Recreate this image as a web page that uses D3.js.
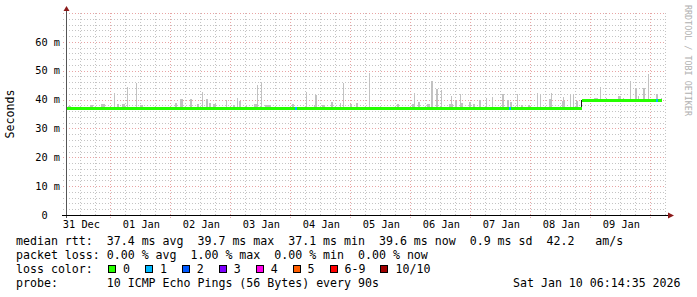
<!DOCTYPE html>
<html>
<head>
<meta charset="utf-8">
<script src="https://cdn.jsdelivr.net/npm/d3@7"></script>
<style>
  body { margin: 0; background: #fff; }
  text { font-family: "DejaVu Sans Mono", monospace; white-space: pre; }
</style>
</head>
<body>
<div id="chart"></div>
<script>
// smokeping style latency graph, 10 days

var startTime = "12-31 06:14:35";
var endTime = "01-10 06:14:35";

// median rtt (ms) changes
var medianSteps = [
  ["12-31 06:14", 37.1],
  ["01-08 20:48", 39.7]
];
var medianEnd = "01-10 04:48";

// smoke peaks: time, max rtt (ms), samples (24 min each)
var smoke = [
  ["12-31 07:12", 37.9, 3], ["12-31 16:00", 38.2, 3], ["12-31 20:24", 38.3, 4],
  ["01-01 01:36", 42.4, 1], ["01-01 02:48", 38.5, 2], ["01-01 04:48", 38.4, 3],
  ["01-01 06:48", 44.2, 1], ["01-01 10:24", 45.7, 1], ["01-01 12:00", 38.2, 3],
  ["01-02 02:00", 38.8, 2], ["01-02 04:00", 40.1, 3], ["01-02 08:00", 40.3, 2],
  ["01-02 10:48", 38.5, 2], ["01-02 12:48", 42.6, 1], ["01-02 14:24", 40.1, 2],
  ["01-02 15:36", 38.9, 2], ["01-02 17:12", 38.6, 3], ["01-02 22:24", 40.0, 1],
  ["01-03 01:12", 38.2, 2], ["01-03 02:48", 40.6, 1], ["01-03 03:36", 39.6, 2],
  ["01-03 06:24", 38.2, 1], ["01-03 09:36", 38.4, 3], ["01-03 10:48", 45.2, 1],
  ["01-03 12:24", 46.2, 1], ["01-03 14:00", 38.0, 6], ["01-04 00:48", 38.4, 2],
  ["01-04 06:24", 42.7, 1], ["01-04 09:36", 38.2, 3], ["01-04 10:00", 41.6, 2],
  ["01-04 12:48", 38.2, 3], ["01-04 16:24", 39.0, 2], ["01-04 20:00", 38.8, 1],
  ["01-04 21:12", 45.7, 1], ["01-05 00:00", 38.3, 2], ["01-05 02:24", 38.8, 2],
  ["01-05 07:36", 49.1, 1], ["01-05 18:48", 38.6, 2], ["01-06 00:48", 38.4, 3],
  ["01-06 01:36", 42.2, 1], ["01-06 03:12", 39.0, 2], ["01-06 06:48", 38.3, 3],
  ["01-06 08:24", 46.3, 2], ["01-06 10:24", 43.7, 2], ["01-06 12:24", 43.3, 1],
  ["01-06 15:36", 38.4, 4], ["01-06 16:24", 41.2, 1], ["01-06 18:00", 39.6, 2],
  ["01-06 20:00", 41.9, 1], ["01-06 20:24", 38.8, 2], ["01-06 23:36", 39.0, 2],
  ["01-07 01:12", 38.3, 2], ["01-07 03:36", 40.0, 2], ["01-07 06:24", 40.6, 1],
  ["01-07 08:48", 40.9, 1], ["01-07 12:48", 41.9, 2], ["01-07 14:48", 39.7, 2],
  ["01-07 16:00", 39.0, 2], ["01-07 18:48", 41.9, 1], ["01-07 20:24", 38.2, 2],
  ["01-07 23:12", 38.2, 2], ["01-08 02:48", 42.2, 1], ["01-08 04:00", 41.9, 1],
  ["01-08 07:36", 40.3, 3], ["01-08 08:24", 42.2, 1], ["01-08 12:48", 39.4, 3],
  ["01-08 13:12", 40.8, 1], ["01-08 16:00", 41.5, 1], ["01-08 17:12", 41.5, 1],
  ["01-08 18:24", 39.5, 2], ["01-09 01:36", 40.5, 4], ["01-09 04:00", 44.4, 1],
  ["01-09 06:24", 40.4, 1], ["01-09 11:12", 41.4, 3], ["01-09 13:12", 40.7, 1],
  ["01-09 16:00", 46.5, 1], ["01-09 18:00", 43.6, 2], ["01-09 19:12", 41.4, 1],
  ["01-09 21:12", 44.0, 2], ["01-09 23:12", 48.9, 1], ["01-10 02:24", 42.0, 2],
  ["01-10 04:24", 40.5, 1]
];

// samples with packet loss: time, lost pings
var lossPoints = [
  ["01-04 02:00", 1],
  ["01-07 15:36", 1],
  ["01-10 02:24", 1]
];

var yTicks = [0, 10, 20, 30, 40, 50, 60];

var lossLabels = ["0", "1", "2", "3", "4", "5", "6-9", "10/10"];
var lossColors = ["#26ff00", "#00b8ff", "#0059ff", "#7e00ff", "#ff00ea", "#ff5e00", "#ff0000", "#a10000"];

var legendLines = [
  "median rtt:  37.4 ms avg  39.7 ms max  37.1 ms min  39.6 ms now  0.9 ms sd  42.2   am/s",
  "packet loss: 0.00 % avg  1.00 % max  0.00 % min  0.00 % now",
  "loss color:",
  "probe:       10 ICMP Echo Pings (56 Bytes) every 90s"
];
var stampText = "Sat Jan 10 06:14:35 2026";

var W = 697, H = 297;
var pLeft = 66, pRight = 666, pTop = 13, pBottom = 215;
var step = 24 * 60 * 1000;

function parseT(s) {
  var p = s.split(/[- :]/).map(Number);
  var year = p[0] == 12 ? 2025 : 2026;
  return new Date(Date.UTC(year, p[0] - 1, p[1], p[2], p[3], p[4] || 0));
}

var svg = d3.select("#chart").append("svg")
  .attr("width", W)
  .attr("height", H);

svg.append("rect").attr("width", W).attr("height", H).attr("fill", "#fff");

var x = d3.scaleUtc()
  .domain([parseT(startTime), parseT(endTime)])
  .range([pLeft, pRight]);

var y = d3.scaleLinear()
  .domain([0, 70])
  .range([pBottom, pTop]);

// grid
var minorY = d3.range(0, 71, 2).filter(function(v) { return v % 10 != 0; });
var majorY = d3.range(10, 71, 10);
var minorX = d3.utcHour.every(6).range(x.domain()[0], x.domain()[1])
  .filter(function(d) { return d.getUTCHours() != 0; });
var majorX = d3.utcDay.range(x.domain()[0], x.domain()[1]);

var grid = svg.append("g").attr("shape-rendering", "crispEdges");

grid.selectAll(".minY").data(minorY).enter().append("line")
  .attr("x1", pLeft - 3).attr("x2", pRight)
  .attr("y1", function(d) { return Math.round(y(d)) + 0.5; })
  .attr("y2", function(d) { return Math.round(y(d)) + 0.5; })
  .attr("stroke", "#c4c4c4")
  .attr("stroke-dasharray", "1,2");

grid.selectAll(".minX").data(minorX).enter().append("line")
  .attr("x1", function(d) { return Math.round(x(d)) + 0.5; })
  .attr("x2", function(d) { return Math.round(x(d)) + 0.5; })
  .attr("y1", pTop).attr("y2", pBottom + 2)
  .attr("stroke", "#c4c4c4")
  .attr("stroke-dasharray", "1,2");

grid.selectAll(".majY").data(majorY).enter().append("line")
  .attr("x1", pLeft - 3).attr("x2", pRight)
  .attr("y1", function(d) { return Math.round(y(d)) + 0.5; })
  .attr("y2", function(d) { return Math.round(y(d)) + 0.5; })
  .attr("stroke", "#e8a4a4")
  .attr("stroke-dasharray", "1,2");

grid.selectAll(".majX").data(majorX).enter().append("line")
  .attr("x1", function(d) { return Math.round(x(d)) + 0.5; })
  .attr("x2", function(d) { return Math.round(x(d)) + 0.5; })
  .attr("y1", pTop).attr("y2", pBottom + 3)
  .attr("stroke", "#e8a4a4")
  .attr("stroke-dasharray", "1,2");

// median lookup
function medianAt(t) {
  var m = medianSteps[0][1];
  medianSteps.forEach(function(s) {
    if (parseT(s[0]) <= t) m = s[1];
  });
  return m;
}

// smoke
svg.append("g").attr("shape-rendering", "crispEdges")
  .selectAll("rect").data(smoke).enter().append("rect")
  .attr("x", function(d) { return Math.round(x(parseT(d[0]))); })
  .attr("width", function(d) {
    var t = parseT(d[0]);
    return Math.max(1, Math.round(x(new Date(+t + d[2] * step)) - x(t)));
  })
  .attr("y", function(d) { return Math.round(y(d[1])); })
  .attr("height", function(d) {
    return Math.max(1, Math.round(y(medianAt(parseT(d[0])))) - Math.round(y(d[1])));
  })
  .attr("fill", "#c2c2c2");

// median line
var medSegs = medianSteps.map(function(s, i) {
  var t0 = parseT(s[0]);
  var t1 = i < medianSteps.length - 1 ? parseT(medianSteps[i + 1][0]) : parseT(medianEnd);
  return { t0: t0, t1: t1, v: s[1] };
});

var medG = svg.append("g").attr("shape-rendering", "crispEdges");

medG.selectAll(".joint").data(medSegs.slice(1)).enter().append("line")
  .attr("x1", function(d) { return Math.round(x(d.t0)) - 0.5; })
  .attr("x2", function(d) { return Math.round(x(d.t0)) - 0.5; })
  .attr("y1", function(d, i) { return y(medSegs[i].v); })
  .attr("y2", function(d) { return y(d.v); })
  .attr("stroke", "#1a1a1a")
  .attr("stroke-width", 1.5);

medG.selectAll(".med").data(medSegs).enter().append("rect")
  .attr("x", function(d) { return Math.round(x(d.t0)); })
  .attr("width", function(d) { return Math.round(x(d.t1)) - Math.round(x(d.t0)); })
  .attr("y", function(d) { return Math.round(y(d.v)) - 1; })
  .attr("height", 3)
  .attr("fill", lossColors[0]);

medG.selectAll(".loss").data(lossPoints).enter().append("rect")
  .attr("x", function(d) { return Math.round(x(parseT(d[0]))); })
  .attr("width", 2)
  .attr("y", function(d) { return Math.round(y(medianAt(parseT(d[0])))) - 1; })
  .attr("height", 3)
  .attr("fill", function(d) { return lossColors[d[1]]; });

// axes
svg.append("line")
  .attr("x1", pLeft + 0.5).attr("x2", pLeft + 0.5)
  .attr("y1", pBottom + 3).attr("y2", pTop - 3)
  .attr("stroke", "#555").attr("shape-rendering", "crispEdges");
svg.append("path")
  .attr("d", "M" + (pLeft - 2.5) + "," + (pTop - 2) + "L" + (pLeft + 3.5) + "," + (pTop - 2) + "L" + (pLeft + 0.5) + "," + (pTop - 7) + "Z")
  .attr("fill", "#8b1a1a");

svg.append("line")
  .attr("x1", pLeft - 4).attr("x2", pRight + 3)
  .attr("y1", pBottom + 0.5).attr("y2", pBottom + 0.5)
  .attr("stroke", "#000").attr("shape-rendering", "crispEdges");
svg.append("path")
  .attr("d", "M" + (pRight + 2) + "," + (pBottom - 2.5) + "L" + (pRight + 2) + "," + (pBottom + 3.5) + "L" + (pRight + 8) + "," + (pBottom + 0.5) + "Z")
  .attr("fill", "#8b1a1a");

// y labels
svg.append("g").selectAll("text").data(yTicks).enter().append("text")
  .attr("x", 60)
  .attr("y", function(d) { return y(d); })
  .attr("dy", "0.36em")
  .attr("text-anchor", "end")
  .attr("font-size", "10.3px")
  .attr("fill", "#000")
  .text(function(d) { return d == 0 ? "0  " : d + " m"; });

// x labels at noon
var noons = majorX.map(function(d) { return d3.utcHour.offset(d, -12); })
  .filter(function(d) { return x(d) > pLeft; });
svg.append("g").selectAll("text").data(noons).enter().append("text")
  .attr("x", function(d) { return x(d) + 1; })
  .attr("y", 228)
  .attr("text-anchor", "middle")
  .attr("font-size", "10.3px")
  .attr("fill", "#000")
  .text(d3.utcFormat("%d %b"));

// titles
svg.append("text")
  .attr("transform", "translate(14," + ((pTop + pBottom) / 2) + ") rotate(-90)")
  .attr("text-anchor", "middle")
  .attr("font-size", "11.6px")
  .text("Seconds");

svg.append("text")
  .attr("transform", "translate(685,5) rotate(90)")
  .attr("text-anchor", "start")
  .attr("font-size", "8.4px")
  .attr("fill", "#b0b0b0")
  .text("RRDTOOL / TOBI OETIKER");

// legend
var legend = svg.append("g").attr("font-size", "11.6px").attr("fill", "#000");
legend.selectAll("text").data(legendLines).enter().append("text")
  .attr("x", 16)
  .attr("y", function(d, i) { return 245 + i * 14; })
  .text(function(d) { return d; });

legend.append("text")
  .attr("x", 513)
  .attr("y", 245 + 3 * 14)
  .text(stampText);

var lx = 108;
lossLabels.forEach(function(l, i) {
  legend.append("rect")
    .attr("x", lx + 0.5).attr("y", 265.5)
    .attr("width", 7).attr("height", 7)
    .attr("fill", lossColors[i])
    .attr("stroke", "#000")
    .attr("shape-rendering", "crispEdges");
  legend.append("text")
    .attr("x", lx + 15)
    .attr("y", 273)
    .text(l);
  lx += 15 + l.length * 7.02 + 14.9;
});
</script>
</body>
</html>
